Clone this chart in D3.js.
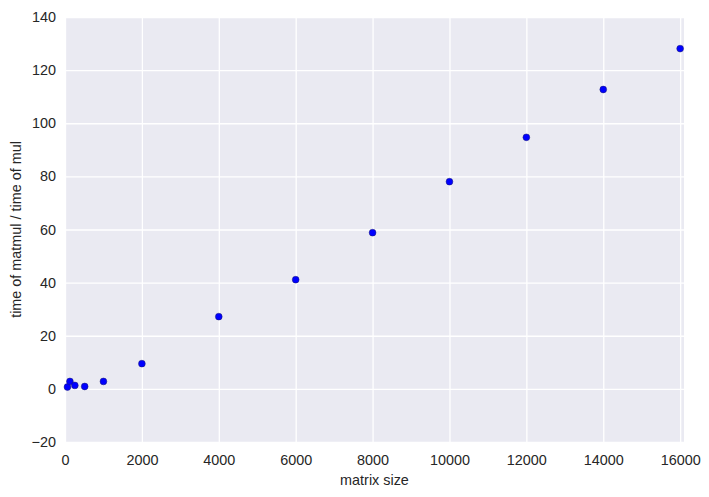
<!DOCTYPE html>
<html>
<head>
<meta charset="utf-8">
<script src="https://cdn.jsdelivr.net/npm/d3@7"></script>
<style>
  body { margin: 0; background: #fff; }
  svg text { font-family: "Liberation Sans", Arial, sans-serif; fill: #262626; }
</style>
</head>
<body>
<script>
// matrix sizes and measured time ratio
const sizes = [64, 128, 256, 512, 1000, 2000, 4000, 6000, 8000, 10000, 12000, 14000, 16000];
const ratios = [0.7, 2.8, 1.3, 0.9, 2.8, 9.5, 27.2, 41.1, 58.8, 78.0, 94.7, 112.7, 128.1];
const xTicks = [0, 2000, 4000, 6000, 8000, 10000, 12000, 14000, 16000];
const yTicks = [-20, 0, 20, 40, 60, 80, 100, 120, 140];

const width = 709;
const height = 497;
const margin = { top: 17, right: 25, bottom: 55, left: 65 };
const fontSize = '14.4px';

const x = d3.scaleLinear()
  .domain([0, 16100])
  .range([margin.left, width - margin.right]);

const y = d3.scaleLinear()
  .domain([-20, 140])
  .range([height - margin.bottom, margin.top]);

const svg = d3.select('body')
  .append('svg')
  .attr('width', width)
  .attr('height', height);

svg.append('rect')
  .attr('x', margin.left)
  .attr('y', margin.top)
  .attr('width', width - margin.left - margin.right)
  .attr('height', height - margin.top - margin.bottom)
  .attr('fill', '#eaeaf2');

// grid
const xAxis = svg.append('g')
  .attr('transform', `translate(0, ${height - margin.bottom})`)
  .call(d3.axisBottom(x)
    .tickValues(xTicks)
    .tickFormat(d3.format('d'))
    .tickSize(-(height - margin.top - margin.bottom))
    .tickPadding(13));

const yAxis = svg.append('g')
  .attr('transform', `translate(${margin.left}, 0)`)
  .call(d3.axisLeft(y)
    .tickValues(yTicks)
    .tickFormat(d => (d < 0 ? `\u2212${Math.abs(d)}` : d))
    .tickSize(-(width - margin.left - margin.right))
    .tickPadding(9));

[xAxis, yAxis].forEach((ax) => {
  ax.select('.domain').remove();
  ax.selectAll('.tick line')
    .attr('stroke', '#fff')
    .attr('stroke-width', 1.3);
  ax.selectAll('.tick text')
    .style('font-size', fontSize)
    .attr('fill', '#262626');
});

svg.append('g')
  .selectAll('circle')
  .data(sizes)
  .enter()
  .append('circle')
  .attr('cx', d => x(d))
  .attr('cy', (d, i) => y(ratios[i]))
  .attr('r', 3.4)
  .attr('fill', '#0000ff')
  .attr('stroke', '#1a1a6e')
  .attr('stroke-width', 0.5);

svg.append('text')
  .attr('x', (margin.left + width - margin.right) / 2)
  .attr('y', 485)
  .attr('text-anchor', 'middle')
  .style('font-size', fontSize)
  .text('matrix size');

svg.append('text')
  .attr('transform', `translate(21, ${(margin.top + height - margin.bottom) / 2}) rotate(-90)`)
  .attr('text-anchor', 'middle')
  .style('font-size', fontSize)
  .text('time of matmul / time of mul');
</script>
</body>
</html>
